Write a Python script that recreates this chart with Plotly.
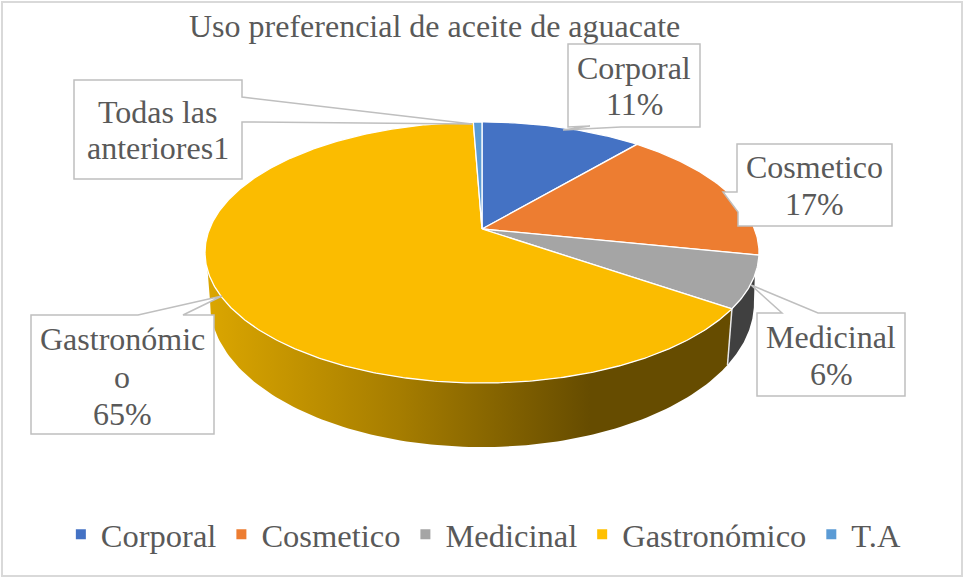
import numpy as np
import plotly.graph_objects as go

TITLE = "Uso preferencial de aceite de aguacate"
CATEGORIES = ["Corporal", "Cosmetico", "Medicinal", "Gastronómico", "T.A"]
VALUES = [11.2, 17.0, 6.4, 64.8, 0.6]
COLORS = ["#4472C4", "#ED7D31", "#A5A5A5", "#FFC000", "#5B9BD5"]
SLICE_COLORS = ["#4472C4", "#ED7D31", "#A5A5A5", "#FBBC00", "#5B9BD5"]
LABEL_LINES = [["Corporal", "11%"], ["Cosmetico", "17%"], ["Medicinal", "6%"],
               ["Gastronómic", "o", "65%"], ["Todas las", "anteriores1"]]
LABEL_X = [634, 814, 831, 122, 158]
LABEL_Y = [[68, 104], [167, 204], [337, 374], [339, 377, 414], [112, 148]]
CALLOUTS = [
    [(568, 44), (700, 44), (700, 127), (621, 127), (563, 130), (590, 126), (568, 127)],
    [(737, 144), (892, 144), (892, 226), (738, 226), (738, 212), (723, 192), (737, 192)],
    [(757, 313), (782, 313), (751, 285), (818, 313), (905, 313), (905, 396), (757, 396)],
    [(31, 315), (138, 315), (222, 296), (183, 315), (214, 315), (214, 434), (31, 434)],
    [(74, 80), (242, 80), (242, 97), (472, 124), (242, 122), (242, 179), (74, 179)],
]

FONT = "Liberation Serif"
TEXT = "#595959"
CX = 482.0


def project(deg, cy, a, b, k):
    t = np.radians(np.asarray(deg, dtype=float))
    X, Y = np.sin(t), np.cos(t)
    w = 1 + k * Y
    return CX + a * X / w, cy - b * Y / w


def top(deg):
    return project(deg, 229.0, 272.5, 126.3, 0.18)


def bottom(deg):
    return project(deg, 288.6, 270.6, 142.6, 0.10)


fig = go.Figure()
cum = np.concatenate([[0], np.cumsum(VALUES)]) / sum(VALUES) * 360
med_end = cum[3]
seam = med_end - 4


def wall(t0, t1, b1, b0, **style):
    xt, yt = top(np.linspace(t0, t1, 120))
    xb, yb = bottom(np.linspace(b1, b0, 120))
    fig.add_trace(go.Scatter(x=np.r_[xt, xb], y=np.r_[yt, yb], fill="toself", mode="lines",
                             hoverinfo="skip", showlegend=False, **style))


wall(110, med_end, seam, 95, fillcolor="#404040", line=dict(color="#404040", width=0))
wall(med_end, 252, 265, seam, line=dict(color="rgba(0,0,0,0)", width=0),
     fillgradient=dict(type="horizontal", start=207, stop=590,
                       colorscale=[[0, "#DBA600"], [0.5, "#A67D00"], [1, "#664C00"]]))
xs0, ys0 = top([med_end])
xs1, ys1 = bottom([seam])
fig.add_trace(go.Scatter(x=[xs0[0], xs1[0]], y=[ys0[0], ys1[0]], mode="lines",
                         line=dict(color="#E8E8E8", width=1.5), hoverinfo="skip", showlegend=False))

for i, cat in enumerate(CATEGORIES):
    th = np.linspace(cum[i], cum[i + 1], max(int(cum[i + 1] - cum[i]) * 2, 6))
    px, py = top(th)
    fig.add_trace(go.Scatter(x=np.r_[CX, px, CX], y=np.r_[229.0, py, 229.0], fill="toself", mode="lines",
                             fillcolor=SLICE_COLORS[i], line=dict(color="white", width=1.3),
                             name=cat, hoverinfo="skip", showlegend=False))

for cat, col in zip(CATEGORIES, COLORS):
    fig.add_trace(go.Scatter(x=[None], y=[None], mode="markers", name=cat,
                             marker=dict(symbol="square", size=10, color=col)))

shapes = [dict(type="rect", xref="x", yref="y", x0=2, y0=2, x1=962, y1=576,
               line=dict(color="#D9D9D9", width=2), layer="below")]
for pts in CALLOUTS:
    path = "M " + " L ".join(f"{x},{y}" for x, y in pts) + " Z"
    shapes.append(dict(type="path", path=path, xref="x", yref="y", fillcolor="white",
                       line=dict(color="#BFBFBF", width=1.5), layer="above"))

annotations = [dict(x=434, y=26, xref="x", yref="y", text=TITLE, showarrow=False,
                    font=dict(family=FONT, size=32, color=TEXT))]
for lines, lx, ly in zip(LABEL_LINES, LABEL_X, LABEL_Y):
    for s, yy in zip(lines, ly):
        annotations.append(dict(x=lx, y=yy, xref="x", yref="y", text=s, showarrow=False,
                                font=dict(family=FONT, size=32, color=TEXT)))

fig.update_layout(
    width=966, height=578, margin=dict(l=0, r=0, t=0, b=0),
    paper_bgcolor="white", plot_bgcolor="white",
    xaxis=dict(range=[0, 966], visible=False, fixedrange=True),
    yaxis=dict(range=[578, 0], visible=False, fixedrange=True),
    shapes=shapes, annotations=annotations,
    legend=dict(orientation="h", x=0.063, y=0.075, xanchor="left", yanchor="middle",
                font=dict(family=FONT, size=32.5, color=TEXT), itemwidth=30,
                bgcolor="rgba(0,0,0,0)"),
    showlegend=True,
)
fig.write_html("out.html", config={"displayModeBar": False},
               post_script="document.body.style.margin='0';document.body.style.overflow='hidden';")
